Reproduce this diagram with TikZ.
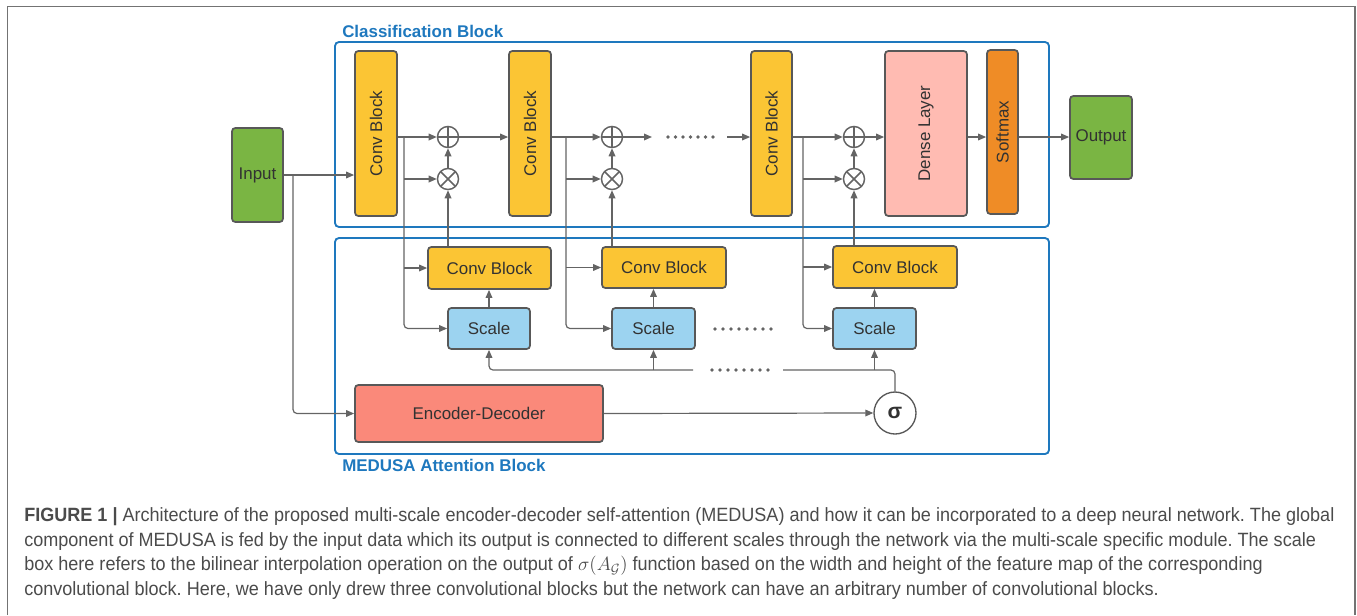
\documentclass[tikz,border=0pt]{standalone}
\usepackage{fontspec}
\setmainfont{Liberation Sans}
\newfontfamily\capfont[FakeStretch=0.94]{Liberation Sans}
\usetikzlibrary{arrows.meta}
\frenchspacing
\definecolor{frameblue}{RGB}{30,120,190}
\definecolor{convy}{RGB}{251,197,52}
\definecolor{ingreen}{RGB}{122,181,67}
\definecolor{densep}{RGB}{255,187,178}
\definecolor{softo}{RGB}{239,140,38}
\definecolor{scaleb}{RGB}{156,211,240}
\definecolor{encs}{RGB}{250,137,122}
\definecolor{edge}{RGB}{88,88,88}
\definecolor{wire}{RGB}{100,100,100}
\definecolor{txt}{RGB}{50,50,50}
\definecolor{captxt}{RGB}{75,75,75}
\definecolor{outer}{RGB}{115,115,115}
\tikzset{
  box/.style={draw=edge, line width=1.3pt, rounded corners=2.5pt, inner sep=0pt,
    text=txt, font=\fontsize{12.7pt}{15pt}\selectfont},
  sz/.style 2 args={minimum width=#1*0.75pt, minimum height=#2*0.75pt},
  frame/.style={draw=frameblue, line width=1.4pt, rounded corners=3pt},
  ttl/.style={text=frameblue, font=\fontsize{12.7pt}{15pt}\selectfont\bfseries, anchor=west, inner sep=0pt},
  ln/.style={draw=wire, line width=0.9pt},
  arr/.style={ln, -{Triangle[length=6pt,width=5pt]}, color=wire},
  opc/.style={circle, draw=wire, line width=1.1pt, minimum size=15.8pt, inner sep=0pt, fill=white},
  oplus/.style={opc, path picture={\draw[wire, line width=1.1pt] (path picture bounding box.north) -- (path picture bounding box.south) (path picture bounding box.west) -- (path picture bounding box.east);}},
  otimes/.style={opc, path picture={\draw[wire, line width=1.1pt] (path picture bounding box.north west) -- (path picture bounding box.south east) (path picture bounding box.north east) -- (path picture bounding box.south west);}},
  dotf/.style={fill=wire, draw=none},
  captline/.style={anchor=base west, inner sep=0pt, text=captxt, font=\capfont\fontsize{14.4pt}{17pt}\selectfont}
}
\begin{document}
\begin{tikzpicture}[x=0.75pt, y=-0.75pt]
\useasboundingbox (0,0) rectangle (1357,615);
% outer figure frame
\draw[outer, line width=1.2pt] (7.5,615) -- (7.5,6.5) -- (1355,6.5) -- (1355,615);

% group frames
\draw[frame] (335,42) rectangle (1049,227);
\draw[frame] (335,238) rectangle (1049,454);
\node[ttl] (tcls) at (342,31) {Classification Block};
\node[ttl] (tatt) at (342,465) {MEDUSA Attention Block};

% classification row
\node[box, fill=ingreen, sz={51}{94}] (in) at (257.5,175) {Input};
\node[box, fill=convy, sz={42}{165}] (c1) at (376,133.5) {\rotatebox{90}{Conv Block}};
\node[box, fill=convy, sz={42}{165}] (c2) at (530,133.5) {\rotatebox{90}{Conv Block}};
\node[box, fill=convy, sz={41}{165}] (c3) at (771.5,133.5) {\rotatebox{90}{Conv Block}};
\node[box, fill=densep, sz={82}{165}] (dn) at (926,133.5) {\rotatebox{90}{Dense Layer}};
\node[box, fill=softo, sz={31}{164}] (sm) at (1002.5,132) {\rotatebox{90}{Softmax}};
\node[box, fill=ingreen, sz={62}{83}] (out) at (1101,137.5) {Output};

\node[oplus] (p1) at (448,137) {};
\node[otimes] (t1) at (448,179) {};
\node[oplus] (p2) at (612,137) {};
\node[otimes] (t2) at (612,179) {};
\node[oplus] (p3) at (854,137) {};
\node[otimes] (t3) at (854,179) {};

% attention row
\node[box, fill=convy, sz={123}{42}] (a1) at (489.5,268) {Conv Block};
\node[box, fill=convy, sz={124}{41}] (a2) at (664,267.5) {Conv Block};
\node[box, fill=convy, sz={124}{42}] (a3) at (895,267) {Conv Block};
\node[box, fill=scaleb, sz={82}{41}] (s1) at (489,328.5) {Scale};
\node[box, fill=scaleb, sz={83}{41}] (s2) at (653.5,328.5) {Scale};
\node[box, fill=scaleb, sz={83}{41}] (s3) at (874.5,328.5) {Scale};
\node[box, fill=encs, sz={248}{57}] (ed) at (479,413.5) {Encoder-Decoder};
\node[circle, draw=edge, line width=1pt, fill=white, minimum size=31.5pt, inner sep=0pt,
  text=txt, font=\fontsize{16pt}{18pt}\selectfont\bfseries] (sg) at (895,413) {σ};

% coordinates for free ends
\coordinate (bi) at (293,175);
\coordinate (b1) at (404,137);
\coordinate (b2) at (566,137);
\coordinate (b3) at (803,137);
\coordinate (e2) at (652,137);
\coordinate (e3) at (727,137);
\coordinate (l1) at (693,370);
\coordinate (l2) at (783,370);

% input
\draw[arr] (in.east |- bi) -- (c1.west |- bi);
\draw[arr, rounded corners=3pt] (bi) |- (ed.west);

% block 1
\draw[arr] (c1.east |- p1) -- (p1.west);
\draw[arr, rounded corners=3pt] (b1) |- (s1.west);
\draw[arr] (b1 |- t1) -- (t1.west);
\draw[arr] (b1 |- a1) -- (a1.west);
\draw[arr] (t1.north) -- (p1.south);
\draw[arr] (a1.north -| t1) -- (t1.south);
\draw[arr] (s1.north) -- (s1.north |- a1.south);
\draw[arr] (p1.east) -- (p1.east -| c2.west);

% block 2
\draw[arr] (c2.east |- p2) -- (p2.west);
\draw[arr, rounded corners=3pt] (b2) |- (s2.west);
\draw[arr] (b2 |- t2) -- (t2.west);
\draw[arr] (b2 |- a2) -- (a2.west);
\draw[arr] (t2.north) -- (p2.south);
\draw[arr] (a2.north -| t2) -- (t2.south);
\draw[arr] (s2.north) -- (s2.north |- a2.south);
\draw[arr] (p2.east) -- (e2);
\foreach \x in {668,675.5,...,714} \fill[dotf] (\x,137) circle (1.4pt);
\draw[arr] (e3) -- (e3 -| c3.west);

% block 3
\draw[arr] (c3.east |- p3) -- (p3.west);
\draw[arr, rounded corners=3pt] (b3) |- (s3.west);
\draw[arr] (b3 |- t3) -- (t3.west);
\draw[arr] (b3 |- a3) -- (a3.west);
\draw[arr] (t3.north) -- (p3.south);
\draw[arr] (a3.north -| t3) -- (t3.south);
\draw[arr] (s3.north) -- (s3.north |- a3.south);
\draw[arr] (p3.east) -- (p3.east -| dn.west);
\draw[arr] (dn.east |- p3) -- (sm.west |- p3);
\draw[arr] (sm.east |- p3) -- (out.west |- p3);

% dots between scales
\foreach \x in {715,723,...,772} \fill[dotf] (\x,329) circle (1.4pt);

% sigma distribution line
\draw[arr] (ed.east) -- (sg.west);
\draw[arr, rounded corners=3pt] (l1) -| (s1.south);
\draw[arr] (s2.south |- l1) -- (s2.south);
\foreach \x in {712,720,...,769} \fill[dotf] (\x,370) circle (1.4pt);
\draw[ln, rounded corners=3pt] (l2) -| (sg.north);
\draw[arr] (s3.south |- l2) -- (s3.south);

% caption
\node[captline] (cap1) at (24,521.5) {\textbf{FIGURE 1 |} Architecture of the proposed multi-scale encoder-decoder self-attention (MEDUSA) and how it can be incorporated to a deep neural network. The global};
\node[captline] (cap2) at (24,546) {component of MEDUSA is fed by the input data which its output is connected to different scales through the network via the multi-scale specific module. The scale};
\node[captline] (cap3) at (24,570.5) {box here refers to the bilinear interpolation operation on the output of $\sigma(A_{\mathcal{G}})$ function based on the width and height of the feature map of the corresponding};
\node[captline] (cap4) at (24,595) {convolutional block. Here, we have only drew three convolutional blocks but the network can have an arbitrary number of convolutional blocks.};
\end{tikzpicture}
\end{document}
